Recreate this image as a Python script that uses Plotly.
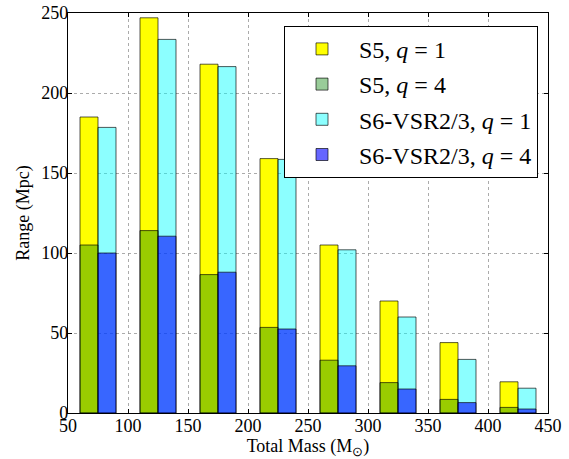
import plotly.graph_objects as go

total_mass = [75, 125, 175, 225, 275, 325, 375, 425]
s5_q1 = [185, 247, 218, 159, 105, 70, 44, 19.5]
s5_q4 = [105, 114, 86.5, 53.5, 33, 19, 8.5, 3.5]
s6_q1 = [178.5, 233.5, 216.5, 158.5, 102, 60, 33.5, 15.5]
s6_q4 = [100, 110.5, 88, 52.5, 29.5, 15, 6.5, 2.5]

FONT = "Liberation Serif"
edge = dict(color="rgba(0,0,0,0.65)", width=1)

fig = go.Figure()
fig.add_trace(go.Bar(x=total_mass, y=s5_q1, width=15, offset=-15,
                     marker=dict(color="rgb(255,255,0)", line=edge),
                     name="S5, <i>q</i> = 1", legendgroup="a", legendrank=1))
fig.add_trace(go.Bar(x=total_mass, y=s6_q1, width=15, offset=0,
                     marker=dict(color="rgba(0,255,255,0.45)", line=edge),
                     name="S6-VSR2/3, <i>q</i> = 1", legendgroup="c", legendrank=3))
fig.add_trace(go.Bar(x=total_mass, y=s5_q4, width=15, offset=-15,
                     marker=dict(color="rgba(0,128,0,0.4)", line=edge),
                     name="S5, <i>q</i> = 4", legendgroup="b", legendrank=2))
fig.add_trace(go.Bar(x=total_mass, y=s6_q4, width=15, offset=0,
                     marker=dict(color="rgba(0,0,255,0.6)", line=edge),
                     name="S6-VSR2/3, <i>q</i> = 4", legendgroup="d", legendrank=4))

axis_common = dict(showline=True, linecolor="black", linewidth=1.2, mirror="allticks",
                   ticks="inside", ticklen=4, tickcolor="black", automargin=False,
                   ticklabeloverflow="allow",
                   showgrid=True, gridcolor="rgba(150,150,150,0.8)", griddash="dot", gridwidth=1,
                   zeroline=False, tickfont=dict(family=FONT, size=18, color="black"))

fig.update_layout(
    width=569, height=459,
    margin=dict(l=68, r=21, t=13, b=46),
    barmode="overlay",
    plot_bgcolor="white", paper_bgcolor="white",
    font=dict(family=FONT, size=18, color="black"),
    xaxis=dict(range=[50, 450], dtick=50, tick0=50, ticklabelstandoff=-4,
               title=dict(text="Total Mass (M<sub>⊙</sub>)", font=dict(family=FONT, size=18), standoff=4),
               **axis_common),
    yaxis=dict(range=[0, 250], dtick=50, tick0=0, ticklabelstandoff=-5,
               title=dict(text="Range (Mpc)", font=dict(family=FONT, size=18), standoff=6),
               **axis_common),
    legend=dict(x=0.45, y=0.968, xanchor="left", yanchor="top",
                bgcolor="white", bordercolor="black", borderwidth=1,
                font=dict(family=FONT, size=24), tracegroupgap=1,
                traceorder="grouped", itemwidth=64),
    showlegend=True,
)

# remove the page's default body margin so the figure fills the window exactly
fig.write_html("out.html", config={"displayModeBar": False},
               post_script="document.body.style.margin='0';")
